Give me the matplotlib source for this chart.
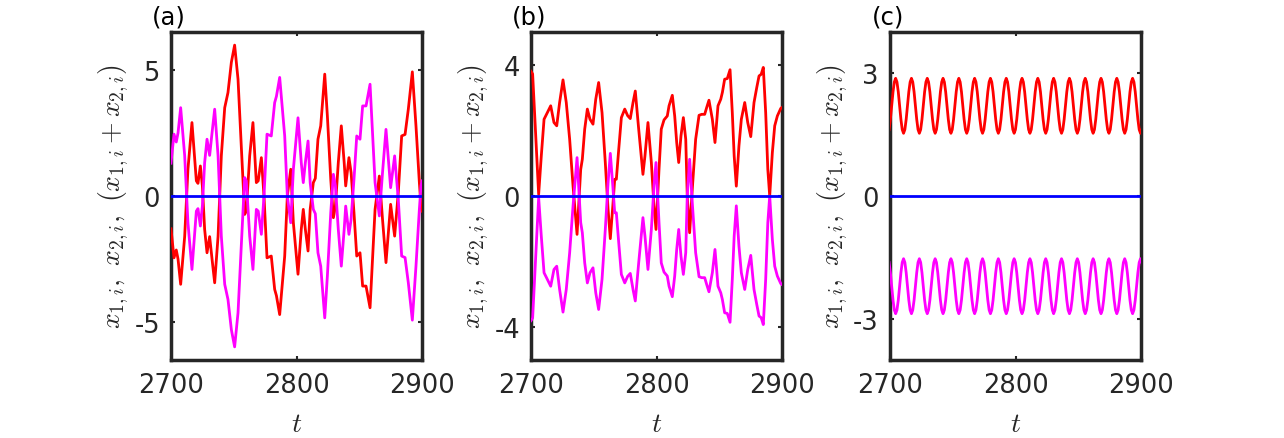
import numpy as np
import matplotlib
matplotlib.use("Agg")
import matplotlib.pyplot as plt

plt.rcParams['mathtext.fontset'] = 'cm'
plt.rcParams['font.family'] = ['DejaVu Sans']

# ---------------- data ----------------
# panel (a): x_{1,i}(t); x_{2,i} = -x_{1,i}
t_a = [2700, 2702.4, 2704.2, 2705.6, 2707.7, 2710.9, 2713.5, 2716.7, 2720.2, 2721.5,
       2723.4, 2725.0, 2726.8, 2728.7, 2730.8, 2732.7, 2734.8, 2737.5, 2740.1, 2742.8,
       2745.4, 2748.1, 2750.7, 2753.4, 2756.0, 2758.7, 2760.0, 2762.7, 2765.3, 2768.0,
       2769.5, 2772.0, 2774.1, 2776.5, 2779.9, 2782.6, 2784.0, 2786.6, 2790.6, 2792.7,
       2795.4, 2797.5, 2801.2, 2803.8, 2805.4, 2807.0, 2809.2, 2810.9, 2813.4, 2815.0,
       2817.1, 2819.3, 2822.5, 2824.6, 2827.3, 2829.4, 2831.0, 2833.3, 2835.7, 2838.0,
       2839.2, 2841.8, 2843.5, 2845.8, 2848.0, 2850.6, 2852.7, 2855.4, 2858.6, 2862.6,
       2866.0, 2868.5, 2871.3, 2875.0, 2878.2, 2881.1, 2883.8, 2886.5, 2889.1, 2892.3,
       2895.2, 2897.9, 2899.2, 2900]
x1_a = [-1.30, -2.45, -2.14, -2.50, -3.50, -1.60, 1.06, 2.91, 0.60, 0.50,
        1.19, 0.40, -1.32, -2.25, -1.61, -2.50, -3.44, -1.60, 1.59, 3.50,
        4.10, 5.30, 5.98, 4.63, 1.98, -0.73, -0.60, 1.59, 2.91, 0.53,
        0.60, 1.52, 0.00, -2.45, -2.38, -3.70, -3.95, -4.70, -2.38, 0.00,
        1.06, -1.06, -3.10, -1.32, -0.53, -1.30, -2.18, -0.53, 0.53, 0.70,
        2.25, 2.78, 4.83, 3.17, 0.66, -0.86, -0.40, 1.32, 2.78, 1.32,
        0.40, 1.52, 0.93, -0.66, -2.38, -2.25, -3.57, -3.57, -4.43, -0.53,
        0.79, -0.90, -2.64, -0.33, -1.59, 0.13, 2.38, 2.44, 3.44, 4.92,
        2.78, 0.53, -0.40, -0.60]

# panel (b)
t_b = [2700, 2701.3, 2703.5, 2706.1, 2708.2, 2710.4, 2713.0, 2715.7, 2718.3, 2720.5,
       2722.8, 2725.5, 2728.1, 2730.8, 2733.5, 2736.7, 2739.6, 2740.9, 2742.8, 2744.9,
       2747.0, 2749.4, 2751.6, 2753.9, 2756.6, 2759.2, 2761.4, 2763.2, 2765.2, 2766.7,
       2768.0, 2769.9, 2772.0, 2774.7, 2777.0, 2779.1, 2781.3, 2783.1, 2785.8, 2789.2,
       2790.8, 2793.2, 2795.9, 2798.0, 2799.6, 2802.0, 2803.8, 2806.0, 2808.6, 2810.0,
       2812.6, 2814.5, 2816.1, 2817.7, 2819.5, 2821.4, 2823.3, 2824.5, 2826.4, 2828.5,
       2831.2, 2833.9, 2836.0, 2838.4, 2840.0, 2841.8, 2844.5, 2846.6, 2849.0, 2851.2,
       2852.5, 2854.3, 2856.4, 2858.6, 2860.4, 2861.9, 2863.6, 2865.7, 2867.6, 2870.3,
       2872.7, 2875.1, 2877.7, 2879.9, 2881.7, 2883.4, 2885.1, 2887.0, 2888.7, 2890.2,
       2892.3, 2894.2, 2896.3, 2899.0, 2900]
x1_b = [3.80, 3.72, 2.04, 0.05, 1.22, 2.34, 2.54, 2.75, 2.24, 2.14,
        2.85, 3.54, 2.85, 1.73, 0.30, -1.17, 0.81, 1.12, 2.04, 2.65,
        2.34, 2.19, 2.95, 3.46, 2.54, 1.02, -0.40, -1.30, -0.30, 0.51,
        0.51, 1.42, 2.39, 2.65, 2.45, 2.36, 2.85, 3.20, 2.04, 0.66,
        1.22, 2.24, 1.02, -0.30, -1.02, 0.81, 2.04, 2.32, 2.44, 2.75,
        3.07, 2.44, 1.63, 1.02, 1.83, 2.39, 1.73, 0.00, -1.12, 0.20,
        1.73, 2.46, 2.49, 2.49, 2.70, 2.92, 2.34, 1.63, 2.75, 2.95,
        3.16, 3.56, 3.58, 3.85, 2.54, 1.22, 0.30, 1.53, 2.34, 2.85,
        2.24, 1.81, 2.85, 3.31, 3.66, 3.71, 3.92, 2.54, 0.81, 0.00,
        1.32, 2.14, 2.44, 2.67, 2.70]

# panel (c): samples every 1/12 of the oscillation period
t_c_start, t_c_step = 2699.255, 1.049
x1_c = [1.62, 1.87, 2.20, 2.54, 2.78, 2.87, 2.78, 2.54, 2.20, 1.87, 1.62, 1.53,
        1.62, 1.87, 2.20, 2.54, 2.78, 2.87, 2.78, 2.54, 2.20, 1.87, 1.62, 1.53,
        1.62, 1.87, 2.20, 2.54, 2.78, 2.87, 2.78, 2.54, 2.20, 1.87, 1.62, 1.53,
        1.62, 1.87, 2.20, 2.54, 2.78, 2.87, 2.78, 2.54, 2.20, 1.87, 1.62, 1.53,
        1.62, 1.87, 2.20, 2.54, 2.78, 2.87, 2.78, 2.54, 2.20, 1.87, 1.62, 1.53,
        1.62, 1.87, 2.20, 2.54, 2.78, 2.87, 2.78, 2.54, 2.20, 1.87, 1.62, 1.53,
        1.62, 1.87, 2.20, 2.54, 2.78, 2.87, 2.78, 2.54, 2.20, 1.87, 1.62, 1.53,
        1.62, 1.87, 2.20, 2.54, 2.78, 2.87, 2.78, 2.54, 2.20, 1.87, 1.62, 1.53,
        1.62, 1.87, 2.20, 2.54, 2.78, 2.87, 2.78, 2.54, 2.20, 1.87, 1.62, 1.53,
        1.62, 1.87, 2.20, 2.54, 2.78, 2.87, 2.78, 2.54, 2.20, 1.87, 1.62, 1.53,
        1.62, 1.87, 2.20, 2.54, 2.78, 2.87, 2.78, 2.54, 2.20, 1.87, 1.62, 1.53,
        1.62, 1.87, 2.20, 2.54, 2.78, 2.87, 2.78, 2.54, 2.20, 1.87, 1.62, 1.53,
        1.62, 1.87, 2.20, 2.54, 2.78, 2.87, 2.78, 2.54, 2.20, 1.87, 1.62, 1.53,
        1.62, 1.87, 2.20, 2.54, 2.78, 2.87, 2.78, 2.54, 2.20, 1.87, 1.62, 1.53,
        1.62, 1.87, 2.20, 2.54, 2.78, 2.87, 2.78, 2.54, 2.20, 1.87, 1.62, 1.53,
        1.62, 1.87, 2.20, 2.54, 2.78, 2.87, 2.78, 2.54, 2.20, 1.87, 1.62, 1.53,
        1.62]
t_c = t_c_start + t_c_step * np.arange(len(x1_c))

x_ticks = [2700, 2800, 2900]
x_ticklabels = ['2700', '2800', '2900']
y_ticks = [[-5, 0, 5], [-4, 0, 4], [-3, 0, 3]]
y_ticklabels = [['-5', '0', '5'], ['-4', '0', '4'], ['-3', '0', '3']]
y_lims = [6.5, 5.0, 4.0]
panel_names = ['(a)', '(b)', '(c)']

# ---------------- figure ----------------
W, H = 1284, 439
fig = plt.figure(figsize=(W / 100, H / 100), dpi=100)
lefts = [171, 531, 890]
ax_w, ax_top, ax_bot = 251, 33, 361
dark = '#262626'

series = [(t_a, x1_a), (t_b, x1_b), (t_c, x1_c)]
for k, (tt, x1) in enumerate(series):
    ax = fig.add_axes([lefts[k] / W, 1 - ax_bot / H, ax_w / W, (ax_bot - ax_top) / H])
    tt = np.asarray(tt, float)
    x1 = np.asarray(x1, float)
    x2 = -x1
    ax.plot(tt, x1, color='#ff0000', lw=2.0, zorder=3, solid_joinstyle='round')
    ax.plot(tt, x2, color='#ff00ff', lw=2.0, zorder=3, solid_joinstyle='round')
    ax.plot(tt, x1 + x2, color='#0000ff', lw=2.0, zorder=4)
    ax.set_xlim(2700, 2900)
    ax.set_ylim(-y_lims[k], y_lims[k])
    ax.set_xticks(x_ticks)
    ax.set_xticklabels(x_ticklabels)
    ax.set_yticks(y_ticks[k])
    ax.set_yticklabels(y_ticklabels[k])
    ax.tick_params(direction='in', length=3, width=1.5, colors=dark,
                   labelsize=18.5, top=True, right=True, pad=8)
    ax.tick_params(axis='x', pad=9)
    for sp in ax.spines.values():
        sp.set_linewidth(2.5)
        sp.set_color(dark)
    ax.set_xlabel(r'$t$', fontsize=20, color=dark)
    ax.xaxis.set_label_coords(0.5, -0.15)
    ax.set_ylabel(r'$x_{1,i},\ x_{2,i},\ (x_{1,i}+x_{2,i})$', fontsize=20, color=dark)
    ax.yaxis.set_label_coords(-0.16, 0.5)
    fig.text((lefts[k] - 2) / W, 1 - 17 / H, panel_names[k], ha='center', va='center',
             fontsize=17.5, color='black')

fig.savefig('out.png', dpi=100)
